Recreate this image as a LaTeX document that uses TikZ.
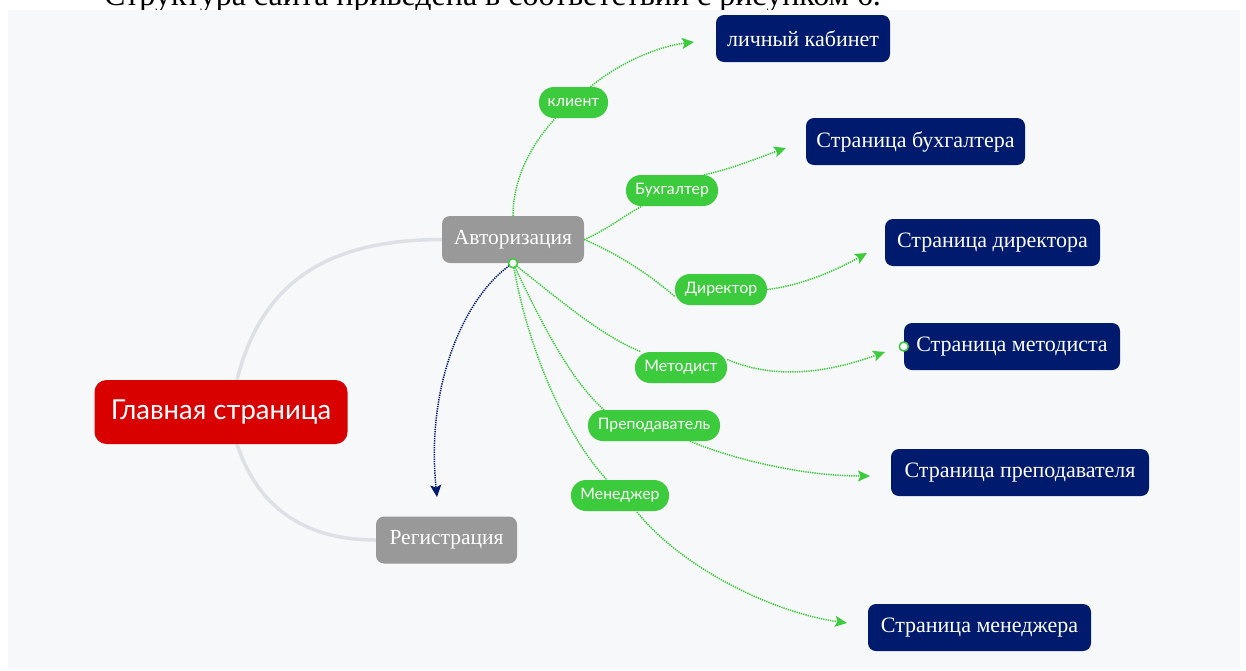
\documentclass[tikz,border=0pt]{standalone}
\usepackage{fontspec}
\setmainfont{Liberation Serif}
\newfontfamily\lblfont{Lato}
\usetikzlibrary{arrows.meta,backgrounds}
\definecolor{bg}{HTML}{F7F8FA}
\definecolor{redn}{HTML}{D90000}
\definecolor{grayn}{HTML}{999999}
\definecolor{navyn}{HTML}{001A6E}
\definecolor{greenn}{HTML}{3CCB3C}
\definecolor{trunkc}{HTML}{DDE0E4}
\tikzset{
  mainbox/.style={rounded corners=12pt, fill=redn, text=white, font=\lblfont\fontsize{27.5}{32}\selectfont},
  graybox/.style={rounded corners=8pt, fill=grayn, text=white, font=\fontsize{21.5}{24}\selectfont, minimum height=47pt},
  topicbox/.style={rounded corners=8pt, fill=navyn, text=white, font=\fontsize{22}{24}\selectfont, minimum height=47pt},
  lblbox/.style={rounded corners=15pt, fill=greenn, text=white, font=\lblfont\fontsize{15.8}{18}\selectfont, minimum height=31pt},
  trunk/.style={draw=trunkc, line width=3.5pt},
  gline/.style={draw=greenn, line width=1.5pt, dash pattern=on 1.3pt off 1pt},
  tipshape/.style={-{Stealth[length=12pt,width=11pt,inset=2.5pt]}},
  garrow/.style={gline, tipshape},
  narrow/.style={draw=navyn, line width=1.5pt, dash pattern=on 1.3pt off 1pt, tipshape},
  port/.style={circle, draw=greenn, fill=white, line width=1.5pt, inner sep=0pt, minimum size=9pt}
}
\begin{document}
\begin{tikzpicture}[x=1pt,y=-1pt]
\useasboundingbox (0,0) rectangle (1246,670);
\clip (0,0) rectangle (1246,670);

% nodes
\node[mainbox, minimum width=253pt, minimum height=64pt] (main) at (221,412) {Главная страница};
\node[graybox, minimum width=142pt] (auth) at (513,239.5) {Авторизация};
\node[graybox, minimum width=141pt] (reg) at (446.5,540) {Регистрация};
\node[topicbox, minimum width=174pt] (cab) at (803,38.5) {личный кабинет};
\node[topicbox, minimum width=219pt] (buh) at (915.5,141.5) {Страница бухгалтера};
\node[topicbox, minimum width=215pt] (dir) at (992.5,242.5) {Страница директора};
\node[topicbox, minimum width=216pt] (met) at (1012,346.5) {Страница методиста};
\node[topicbox, minimum width=258pt] (pre) at (1020,472.5) {Страница преподавателя};
\node[topicbox, minimum width=223pt] (men) at (979.5,627.5) {Страница менеджера};

\node[lblbox, minimum width=69pt] (kl) at (573.5,102.5) {клиент};
\node[lblbox, minimum width=92pt] (bu) at (672,190.5) {Бухгалтер};
\node[lblbox, minimum width=92pt] (di) at (721,289.5) {Директор};
\node[lblbox, minimum width=92pt] (me) at (681,367.5) {Методист};
\node[lblbox, minimum width=132pt] (pr) at (654,425.5) {Преподаватель};
\node[lblbox, minimum width=98pt] (mn) at (620,495.5) {Менеджер};

% arrow ends
\coordinate (cabE) at (694,42);
\coordinate (buhE) at (786,148);
\coordinate (dirE) at (867,253);
\coordinate (metE) at (885,352);
\coordinate (preE) at (870,476);
\coordinate (menE) at (847,623);
\coordinate (regE) at (437,497);
\coordinate (mnIn) at (607,480);
\coordinate (mnOut) at (637,512);

\begin{scope}[on background layer]
\node[anchor=base west, font=\fontsize{32}{34}\selectfont, inner sep=0pt] (caption) at (104,5.5) {Структура сайта приведена в соответствии с рисунком 6.};
\fill[bg] (8,10) rectangle (1240,668);

% trunks
\draw[trunk] ([xshift=16pt]main.north) .. controls (262,280) and (330,239.5) .. (auth.west);
\draw[trunk] ([xshift=16pt]main.south) .. controls (262,520) and (320,540) .. (reg.west);

% green connectors
\draw[gline] (auth.north) .. controls (513,175) and (535,140) .. ([xshift=-18pt]kl.south);
\draw[garrow] ([xshift=17pt]kl.north) .. controls (620,62) and (660,46) .. (cabE);

\draw[gline] (auth.east) .. controls (605,231) and (625,215) .. ([xshift=-30pt]bu.south);
\draw[garrow] ([xshift=32pt]bu.north) .. controls (735,168) and (760,157) .. (buhE);

\draw[gline] (auth.east) .. controls (620,255) and (650,275) .. ([yshift=-7pt]di.west);
\draw[garrow] (di.east) .. controls (805,285) and (840,268) .. (dirE);

\draw[gline] (auth.south) .. controls (560,300) and (600,335) .. ([xshift=-40pt]me.north);
\draw[garrow] ([yshift=8pt]me.east) .. controls (780,382) and (835,370) .. (metE);

\draw[gline] (auth.south) .. controls (540,320) and (570,380) .. ([xshift=-50pt]pr.north);
\draw[garrow] ([xshift=36pt]pr.south) .. controls (730,458) and (800,476) .. (preE);

\draw[gline] (auth.south) .. controls (530,360) and (570,440) .. (mnIn);
\draw[garrow] (mnOut) .. controls (680,566) and (770,612) .. (menE);

\draw[narrow] (auth.south) .. controls (468,292) and (425,380) .. (regE);
\end{scope}

% ports
\node[port] (p1) at (auth.south) {};
\node[port] (p2) at (met.west) {};
\end{tikzpicture}
\end{document}
